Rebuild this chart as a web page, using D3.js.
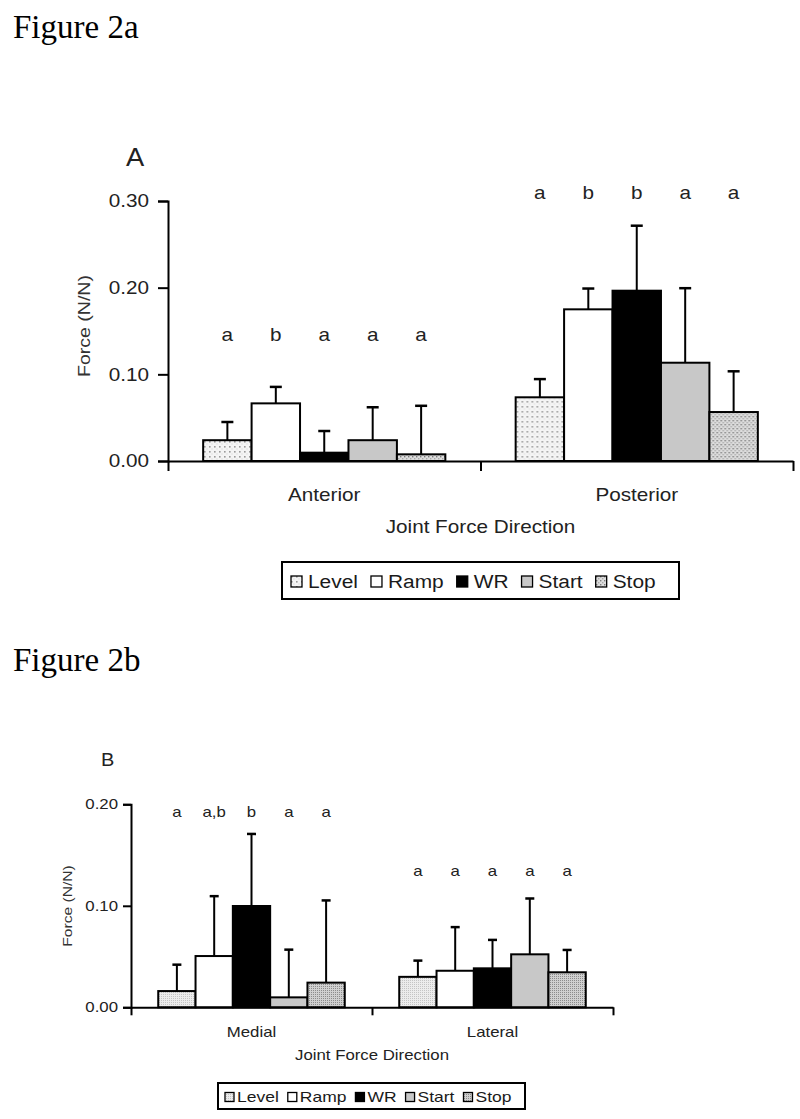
<!DOCTYPE html>
<html>
<head>
<meta charset="utf-8">
<script src="https://cdn.jsdelivr.net/npm/d3@7/dist/d3.min.js"></script>
<style>
  body { margin: 0; background: #fff; }
  svg { display: block; }
</style>
</head>
<body>
<div id="chart"></div>
<script>
// conditions (series) shared by both figures
let conditions = ["Level", "Ramp", "WR", "Start", "Stop"];

// figure 2a
let groupsA = ["Anterior", "Posterior"];
let anteriorMean = [0.024, 0.0665, 0.0096, 0.024, 0.0077];
let anteriorSD = [0.021, 0.019, 0.025, 0.038, 0.056];
let posteriorMean = [0.0735, 0.175, 0.1965, 0.1134, 0.0565];
let posteriorSD = [0.021, 0.024, 0.075, 0.086, 0.047];
let anteriorLetters = ["a", "b", "a", "a", "a"];
let posteriorLetters = ["a", "b", "b", "a", "a"];
let ticksA = [0, 0.1, 0.2, 0.3];

// figure 2b
let groupsB = ["Medial", "Lateral"];
let medialMean = [0.016, 0.0505, 0.0998, 0.0098, 0.0243];
let medialSD = [0.026, 0.059, 0.071, 0.047, 0.081];
let lateralMean = [0.030, 0.036, 0.0384, 0.0522, 0.0345];
let lateralSD = [0.016, 0.043, 0.028, 0.055, 0.022];
let medialLetters = ["a", "a,b", "b", "a", "a"];
let lateralLetters = ["a", "a", "a", "a", "a"];
let ticksB = [0, 0.1, 0.2];

const FONT = "Liberation Sans, Arial, Helvetica, sans-serif";

let svg = d3.select("#chart").append("svg")
    .attr("width", 800)
    .attr("height", 1119);

svg.append("rect").attr("width", 800).attr("height", 1119).attr("fill", "#fff");

// fill patterns
let defs = svg.append("defs");

function dotPattern(id, size, bg, dots) {
    let p = defs.append("pattern")
        .attr("id", id)
        .attr("patternUnits", "userSpaceOnUse")
        .attr("width", size)
        .attr("height", size);
    p.append("rect").attr("width", size).attr("height", size).attr("fill", bg);
    dots.forEach(d => {
        p.append("rect").attr("x", d[0]).attr("y", d[1])
            .attr("width", d[2]).attr("height", d[2]).attr("fill", d[3]);
    });
}
dotPattern("aLevel", 5, "#f4f4f4", [[1, 1, 1.6, "#9a9a9a"], [3.5, 3.5, 1, "#d0d0d0"]]);
dotPattern("aStop", 4, "#dcdcdc", [[0, 0, 1.4, "#7a7a7a"], [2, 2, 1.4, "#a8a8a8"]]);
dotPattern("bLevel", 2, "#ececec", [[0, 0, 1, "#c4c4c4"]]);
dotPattern("bStop", 2, "#d0d0d0", [[0, 0, 1, "#8c8c8c"]]);

// text helper with a horizontal stretch factor
function addText(g, x, y, str, size, o) {
    o = o || {};
    let t = g.append("text")
        .attr("transform", "translate(" + x + "," + y + ")" +
            (o.rotate ? " rotate(" + o.rotate + ")" : "") +
            " scale(" + (o.sx || 1) + ",1)")
        .attr("font-family", o.family || FONT)
        .attr("font-size", size)
        .attr("fill", o.fill || "#1a1a1a")
        .attr("text-anchor", o.anchor || "start")
        .text(str);
    return t;
}

function drawPanel(cfg) {
    let g = svg.append("g");

    let y = d3.scaleLinear().domain(cfg.yDomain).range([cfg.y0, cfg.yTop]);
    let x0 = d3.scaleBand().domain(cfg.groups).range([cfg.xLeft, cfg.xRight]);
    let bw = x0.bandwidth();
    let x1 = d3.scaleBand().domain(conditions)
        .range([bw * cfg.inner, bw * (1 - cfg.inner)]);

    // bars + error bars
    cfg.groups.forEach((grp, gi) => {
        let means = cfg.means[gi], sds = cfg.sds[gi], letters = cfg.letters[gi];
        let gg = g.append("g").attr("transform", "translate(" + x0(grp) + ",0)");

        gg.selectAll(".err")
            .data(conditions)
            .enter().append("line")
            .attr("x1", d => x1(d) + x1.bandwidth() / 2)
            .attr("x2", d => x1(d) + x1.bandwidth() / 2)
            .attr("y1", (d, i) => y(means[i]))
            .attr("y2", (d, i) => y(means[i] + sds[i]))
            .attr("stroke", "#000").attr("stroke-width", cfg.sw);

        gg.selectAll(".cap")
            .data(conditions)
            .enter().append("line")
            .attr("x1", d => x1(d) + x1.bandwidth() / 2 - cfg.cap / 2)
            .attr("x2", d => x1(d) + x1.bandwidth() / 2 + cfg.cap / 2)
            .attr("y1", (d, i) => y(means[i] + sds[i]))
            .attr("y2", (d, i) => y(means[i] + sds[i]))
            .attr("stroke", "#000").attr("stroke-width", cfg.sw + 0.5);

        gg.selectAll(".bar")
            .data(conditions)
            .enter().append("rect")
            .attr("x", d => x1(d))
            .attr("width", x1.bandwidth())
            .attr("y", (d, i) => y(means[i]))
            .attr("height", (d, i) => y(0) - y(means[i]))
            .attr("fill", (d, i) => cfg.fills[i])
            .attr("stroke", "#000").attr("stroke-width", cfg.sw);

        conditions.forEach((c, i) => {
            addText(gg, x1(c) + x1.bandwidth() / 2, y(cfg.letterLevel[gi]), letters[i],
                cfg.letterSize, {anchor: "middle", sx: cfg.sx, fill: "#222"});
        });

        addText(g, x0(grp) + bw / 2, cfg.y0 + cfg.catOffset, grp, cfg.catSize,
            {anchor: "middle", sx: cfg.sx, fill: "#222"});
    });

    // y axis
    let yAxis = g.append("g")
        .attr("transform", "translate(" + cfg.xLeft + ",0)")
        .call(d3.axisLeft(y).tickValues(cfg.ticks).tickFormat(d3.format(".2f"))
            .tickSize(cfg.tick).tickPadding(cfg.tickPad));
    yAxis.select(".domain").attr("stroke-width", cfg.sw);
    yAxis.selectAll(".tick line").attr("stroke-width", cfg.sw);
    yAxis.selectAll(".tick text").remove();
    cfg.ticks.forEach(t => {
        addText(g, cfg.xLeft - cfg.tick - cfg.tickPad, y(t) + cfg.tickSize * 0.36,
            d3.format(".2f")(t), cfg.tickSize, {anchor: "end", sx: cfg.sx, fill: "#222"});
    });

    // x axis: ticks at group boundaries
    let xb = d3.scaleLinear().domain([0, cfg.groups.length]).range([cfg.xLeft, cfg.xRight]);
    let xAxis = g.append("g")
        .attr("transform", "translate(0," + cfg.y0 + ")")
        .call(d3.axisBottom(xb).tickValues(d3.range(cfg.groups.length + 1))
            .tickFormat("").tickSize(cfg.tick).tickSizeOuter(0));
    xAxis.select(".domain").attr("stroke-width", cfg.sw);
    xAxis.selectAll(".tick line").attr("stroke-width", cfg.sw);

    // titles
    addText(g, (cfg.xLeft + cfg.xRight) / 2, cfg.y0 + cfg.xTitleOffset, "Joint Force Direction",
        cfg.catSize, {anchor: "middle", sx: cfg.sx, fill: "#222"});
    addText(g, cfg.yTitleX, cfg.yTitleY, "Force (N/N)", cfg.yTitleSize,
        {anchor: "middle", rotate: -90, sx: cfg.sx, fill: "#333"});
    addText(g, cfg.panelX, cfg.panelY, cfg.panel, cfg.panelSize, {sx: 1.05, fill: "#222"});

    // legend
    let lg = g.append("g");
    let box = lg.append("rect")
        .attr("x", cfg.legX).attr("y", cfg.legY)
        .attr("width", cfg.legW).attr("height", cfg.legH)
        .attr("fill", "#fff").attr("stroke", "#000").attr("stroke-width", cfg.sw);
    let cx = cfg.legX + cfg.legPad;
    let midY = cfg.legY + cfg.legH / 2;
    conditions.forEach((c, i) => {
        lg.append("rect")
            .attr("x", cx).attr("y", midY - cfg.sq / 2 + 1)
            .attr("width", cfg.sq).attr("height", cfg.sq)
            .attr("fill", cfg.fills[i]).attr("stroke", "#000").attr("stroke-width", 1.3);
        cx += cfg.sq + cfg.legGap1;
        let t = addText(lg, cx, midY + cfg.legSize * 0.36 + 1, c, cfg.legSize, {sx: cfg.legSx});
        cx += t.node().getComputedTextLength() * cfg.legSx + cfg.legGap2;
    });
}

// Figure labels
addText(svg, 13, 38, "Figure 2a", 33, {family: "Liberation Serif, Times New Roman, serif", fill: "#000"});
addText(svg, 13, 671, "Figure 2b", 33, {family: "Liberation Serif, Times New Roman, serif", fill: "#000"});

drawPanel({
    groups: groupsA, means: [anteriorMean, posteriorMean], sds: [anteriorSD, posteriorSD],
    letters: [anteriorLetters, posteriorLetters], letterLevel: [0.138, 0.302],
    fills: ["url(#aLevel)", "#fff", "#000", "#c8c8c8", "url(#aStop)"],
    yDomain: [0, 0.3], ticks: ticksA, y0: 461, yTop: 201, xLeft: 168, xRight: 793, inner: 0.1125,
    sw: 2, cap: 12, tick: 10, tickPad: 9, tickSize: 18, sx: 1.15,
    letterSize: 18, catSize: 18, catOffset: 40, xTitleOffset: 72,
    yTitleX: 90, yTitleY: 326, yTitleSize: 17,
    panel: "A", panelX: 126, panelY: 166, panelSize: 26,
    legX: 282, legY: 562, legW: 397, legH: 37, legPad: 9, sq: 11, legGap1: 6, legGap2: 13,
    legSize: 19, legSx: 1.1
});

drawPanel({
    groups: groupsB, means: [medialMean, lateralMean], sds: [medialSD, lateralSD],
    letters: [medialLetters, lateralLetters], letterLevel: [0.187, 0.129],
    fills: ["url(#bLevel)", "#fff", "#000", "#c8c8c8", "url(#bStop)"],
    yDomain: [0, 0.2], ticks: ticksB, y0: 1007.3, yTop: 804.3, xLeft: 131, xRight: 613, inner: 0.113,
    sw: 2, cap: 9, tick: 8, tickPad: 5, tickSize: 14, sx: 1.2,
    letterSize: 14, catSize: 14, catOffset: 30, xTitleOffset: 53,
    yTitleX: 72, yTitleY: 906, yTitleSize: 13,
    panel: "B", panelX: 101, panelY: 766, panelSize: 19,
    legX: 218, legY: 1083, legW: 307, legH: 26, legPad: 7, sq: 9, legGap1: 3, legGap2: 9,
    legSize: 14, legSx: 1.25
});
</script>
</body>
</html>
